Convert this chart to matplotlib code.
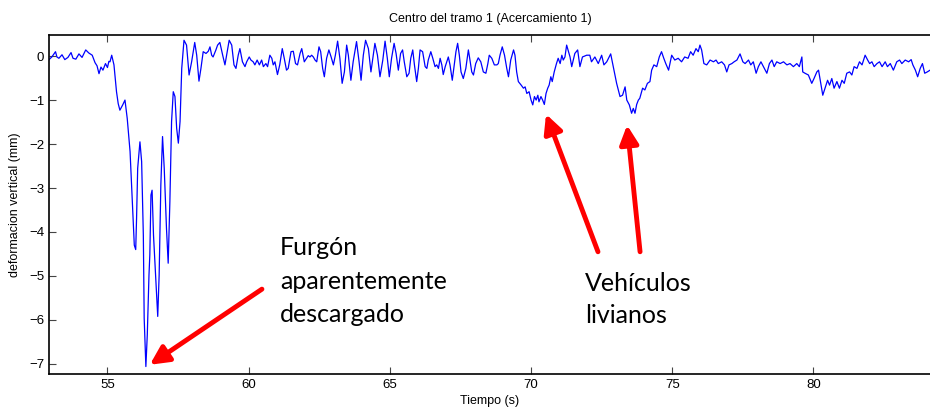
import matplotlib.pyplot as plt

# tiempo (s) y deformacion (mm)
tiempo = [52.93, 53.03, 53.16, 53.21, 53.28, 53.39, 53.49, 53.60, 53.71, 53.78,
          53.88, 53.99, 54.10, 54.23, 54.34, 54.46, 54.56, 54.63, 54.70, 54.77,
          54.84, 54.93, 55.00, 55.05, 55.09, 55.15, 55.23, 55.32, 55.38, 55.44,
          55.54, 55.62, 55.70, 55.80, 55.89, 55.95, 56.00, 56.03, 56.07, 56.15,
          56.21, 56.27, 56.30, 56.36, 56.41, 56.47, 56.50, 56.54, 56.58, 56.63,
          56.72, 56.78, 56.83, 56.89, 56.95, 57.01, 57.09, 57.15, 57.21, 57.27,
          57.33, 57.39, 57.45, 57.51, 57.57, 57.63, 57.71, 57.80, 57.89, 57.98,
          58.09, 58.16, 58.24, 58.31, 58.39, 58.49, 58.57, 58.63, 58.69, 58.74,
          58.84, 58.90, 58.98, 59.08, 59.16, 59.24, 59.31, 59.40, 59.48, 59.55,
          59.63, 59.69, 59.78, 59.87, 59.93, 60.02, 60.08, 60.16, 60.22, 60.30,
          60.38, 60.46, 60.52, 60.61, 60.67, 60.75, 60.82, 60.87, 60.93, 61.02,
          61.10, 61.19, 61.26, 61.34, 61.40, 61.50, 61.58, 61.66, 61.73, 61.82,
          61.88, 61.97, 62.05, 62.11, 62.17, 62.23, 62.29, 62.35, 62.41, 62.49,
          62.55, 62.62, 62.68, 62.76, 62.84, 62.92, 63.00, 63.07, 63.15, 63.23,
          63.31, 63.39, 63.47, 63.53, 63.62, 63.70, 63.82, 63.91, 63.98, 64.06,
          64.14, 64.24, 64.33, 64.41, 64.47, 64.56, 64.65, 64.75, 64.83, 64.91,
          64.98, 65.06, 65.15, 65.22, 65.30, 65.38, 65.45, 65.51, 65.60, 65.68,
          65.74, 65.81, 65.87, 65.95, 66.01, 66.07, 66.16, 66.25, 66.31, 66.36,
          66.45, 66.52, 66.60, 66.66, 66.72, 66.78, 66.84, 66.89, 66.96, 67.07,
          67.13, 67.21, 67.28, 67.34, 67.40, 67.46, 67.52, 67.60, 67.69, 67.78,
          67.81, 67.90, 67.96, 68.04, 68.13, 68.22, 68.31, 68.40, 68.47, 68.52,
          68.61, 68.70, 68.79, 68.84, 68.90, 68.98, 69.06, 69.14, 69.20, 69.28,
          69.38, 69.43, 69.49, 69.55, 69.65, 69.73, 69.79, 69.85, 69.93, 70.00,
          70.06, 70.12, 70.18, 70.24, 70.28, 70.35, 70.41, 70.47, 70.53, 70.59,
          70.64, 70.70, 70.75, 70.82, 70.90, 70.96, 71.03, 71.09, 71.14, 71.20,
          71.26, 71.38, 71.44, 71.55, 71.65, 71.73, 71.82, 71.97, 72.08, 72.14,
          72.26, 72.38, 72.50, 72.58, 72.68, 72.82, 72.91, 73.03, 73.15, 73.24,
          73.33, 73.39, 73.48, 73.56, 73.62, 73.68, 73.74, 73.80, 73.85, 73.95,
          74.03, 74.12, 74.21, 74.27, 74.35, 74.45, 74.54, 74.62, 74.70, 74.77,
          74.87, 74.98, 75.09, 75.21, 75.33, 75.44, 75.56, 75.65, 75.74, 75.84,
          75.92, 75.98, 76.04, 76.12, 76.22, 76.34, 76.46, 76.55, 76.63, 76.75,
          76.85, 76.93, 77.01, 77.11, 77.19, 77.29, 77.40, 77.50, 77.58, 77.70,
          77.78, 77.87, 77.97, 78.05, 78.14, 78.23, 78.35, 78.44, 78.53, 78.61,
          78.70, 78.82, 78.94, 79.06, 79.17, 79.29, 79.41, 79.50, 79.59, 79.62,
          79.70, 79.82, 79.94, 80.02, 80.12, 80.18, 80.26, 80.33, 80.41, 80.50,
          80.57, 80.65, 80.73, 80.83, 80.92, 81.01, 81.09, 81.18, 81.28, 81.36,
          81.44, 81.54, 81.63, 81.72, 81.83, 81.92, 81.99, 82.07, 82.15, 82.25,
          82.34, 82.43, 82.54, 82.62, 82.72, 82.83, 82.95, 83.05, 83.13, 83.25,
          83.37, 83.46, 83.52, 83.61, 83.69, 83.78, 83.86, 83.94, 84.03, 84.13]

deformacion = [-0.08, -0.02, 0.10, -0.02, -0.05, 0.03, -0.08, -0.03, 0.08, -0.05,
               -0.07, 0.05, -0.03, 0.14, 0.07, 0.02, -0.15, -0.22, -0.40, -0.25,
               -0.32, -0.17, -0.26, -0.12, -0.13, 0.02, -0.20, -0.81, -1.08, -1.23,
               -1.11, -1.00, -1.42, -2.17, -3.46, -4.30, -4.40, -3.70, -2.55, -1.95,
               -2.40, -4.07, -5.96, -7.06, -6.34, -4.98, -4.52, -3.16, -3.05, -4.07,
               -5.20, -5.92, -4.98, -2.93, -1.83, -2.55, -3.92, -4.71, -3.31, -1.49,
               -0.81, -0.92, -1.64, -1.98, -1.49, -0.28, 0.36, 0.25, -0.43, -0.13,
               0.31, 0.02, -0.57, -0.28, 0.10, 0.06, 0.11, 0.21, 0.02, -0.02,
               0.14, 0.25, 0.31, 0.02, -0.20, 0.10, 0.36, 0.25, -0.20, -0.28,
               0.02, 0.17, -0.13, -0.24, -0.13, -0.02, -0.09, -0.13, -0.20, -0.09,
               -0.20, -0.09, -0.24, -0.17, -0.24, 0.02, -0.05, -0.20, -0.13, -0.42,
               -0.20, 0.17, -0.05, -0.32, -0.28, 0.10, 0.11, -0.17, -0.20, 0.06,
               0.17, -0.13, -0.05, 0.01, -0.02, 0.02, -0.02, -0.09, -0.13, 0.21,
               0.10, -0.28, -0.47, -0.05, 0.14, -0.02, -0.20, 0.02, 0.34, -0.05,
               -0.62, -0.36, 0.25, 0.02, -0.55, -0.13, 0.33, -0.13, -0.55, 0.02,
               0.36, 0.17, -0.36, 0.02, 0.29, 0.02, -0.47, -0.09, 0.34, -0.05,
               -0.47, -0.05, 0.29, 0.06, -0.32, 0.06, 0.14, -0.13, -0.47, -0.39,
               -0.05, 0.14, -0.20, -0.58, -0.28, 0.14, 0.10, -0.24, -0.28, -0.09,
               0.10, -0.05, -0.24, -0.20, -0.28, -0.05, -0.20, -0.42, -0.24, -0.02,
               -0.20, -0.55, -0.20, 0.10, 0.29, 0.02, -0.36, -0.51, -0.28, 0.14,
               0.02, -0.36, -0.43, -0.17, -0.04, -0.13, -0.36, -0.39, -0.17, 0.02,
               -0.05, -0.20, -0.20, -0.17, 0.02, 0.21, 0.02, -0.28, -0.47, -0.09,
               0.14, 0.02, -0.36, -0.58, -0.66, -0.73, -0.70, -0.85, -0.81, -1.00,
               -1.11, -0.92, -1.00, -0.89, -1.04, -0.92, -1.00, -1.10, -0.85, -0.73,
               -0.66, -0.47, -0.58, -0.36, -0.17, -0.05, -0.17, 0.02, -0.09, -0.02,
               0.25, -0.02, -0.24, 0.06, 0.14, -0.24, -0.02, 0.02, 0.02, -0.13,
               -0.02, -0.17, 0.02, -0.20, -0.13, 0.05, -0.24, -0.62, -0.92, -0.89,
               -0.70, -1.00, -1.11, -1.30, -1.19, -1.30, -1.10, -1.00, -0.96, -0.73,
               -0.77, -0.62, -0.58, -0.32, -0.20, -0.24, -0.02, 0.10, -0.05, -0.17,
               -0.32, 0.02, -0.09, -0.05, -0.13, -0.02, -0.05, 0.10, 0.02, 0.17,
               0.10, 0.25, 0.14, -0.17, -0.20, -0.09, -0.13, -0.09, -0.17, -0.13,
               -0.20, -0.36, -0.20, -0.17, -0.13, -0.09, 0.05, -0.13, -0.17, -0.09,
               -0.20, -0.13, -0.39, -0.24, -0.13, -0.24, -0.39, -0.17, -0.09, -0.24,
               -0.13, -0.17, -0.13, -0.20, -0.17, -0.24, -0.17, -0.24, -0.02, -0.36,
               -0.39, -0.43, -0.62, -0.51, -0.36, -0.32, -0.62, -0.89, -0.73, -0.55,
               -0.66, -0.51, -0.73, -0.58, -0.73, -0.55, -0.62, -0.39, -0.36, -0.43,
               -0.24, -0.28, -0.13, -0.20, 0.02, -0.09, -0.17, -0.13, -0.24, -0.17,
               -0.13, -0.24, -0.13, -0.24, -0.17, -0.32, -0.13, -0.09, -0.17, -0.09,
               -0.13, -0.08, -0.20, -0.32, -0.47, -0.28, -0.17, -0.39, -0.36, -0.32]

x_ticks = [55, 60, 65, 70, 75, 80]
y_ticks = [0, -1, -2, -3, -4, -5, -6, -7]

plt.rcParams['font.family'] = ['Liberation Sans', 'DejaVu Sans']

fig = plt.figure(figsize=(9.3, 4.13), dpi=100)
ax = fig.add_axes([0.0527, 0.0944, 0.9483, 0.8209])

ax.plot(tiempo, deformacion, color='#0000ff', lw=0.9)

ax.set_xlim(52.93, 84.16)
ax.set_ylim(-7.23, 0.48)
ax.set_xticks(x_ticks)
ax.set_yticks(y_ticks)
ax.tick_params(direction='in', length=5, width=0.8, color='#444444',
               top=True, right=False, labelsize=9.5)
for s in ['left', 'bottom', 'top']:
    ax.spines[s].set_linewidth(1.2)
ax.spines['right'].set_visible(False)

ax.set_title('Centro del tramo 1 (Acercamiento 1)', fontsize=9, pad=9)
ax.set_xlabel('Tiempo (s)', fontsize=9, labelpad=3)
ax.set_ylabel('deformacion vertical (mm)', fontsize=9, labelpad=6)

# anotaciones
flecha = dict(arrowstyle='-|>', color='#ff0000', lw=3.5, mutation_scale=28,
              shrinkA=0, shrinkB=0)
ax.annotate('', xy=(56.50, -7.02), xytext=(60.47, -5.30), arrowprops=flecha)
ax.annotate('', xy=(70.53, -1.32), xytext=(72.37, -4.45), arrowprops=flecha)
ax.annotate('', xy=(73.40, -1.57), xytext=(73.86, -4.45), arrowprops=flecha)

ax.text(61.11, -4.1, 'Furgón\naparentemente\ndescargado', fontsize=18,
        family=['Lato', 'DejaVu Sans'], va='top', ha='left', linespacing=1.55)
ax.text(71.91, -4.9, 'Vehículos\nlivianos', fontsize=18,
        family=['Lato', 'DejaVu Sans'], va='top', ha='left', linespacing=1.5)

fig.savefig('out.png', dpi=100)
